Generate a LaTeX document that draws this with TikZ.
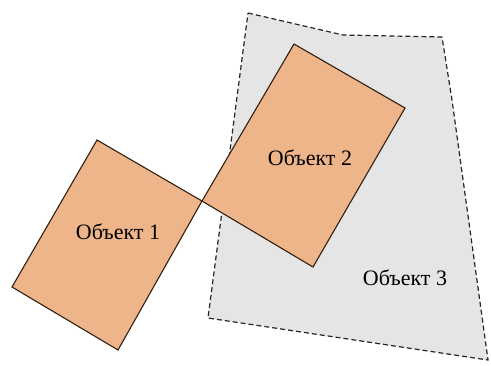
\documentclass[tikz,border=0pt]{standalone}
\usepackage{fontspec}
\setmainfont{Liberation Serif}
\usepackage{xcolor}
\usepackage{tikz}
\definecolor{objorange}{RGB}{238,180,138}
\definecolor{objgray}{RGB}{229,229,229}

\begin{document}
\begin{tikzpicture}[
    x=0.5pt, y=-0.5pt,
    zone/.style={draw=black!85, dash pattern=on 2.5pt off 1.5pt, fill=objgray, line width=0.6pt},
    obj/.style={draw=black!75!brown, fill=objorange, line width=0.55pt},
    lbl/.style={font=\fontsize{11}{13}\selectfont, inner sep=0pt}
]
\useasboundingbox (0,0) rectangle (491,365);
\draw[zone] (248,13) -- (343,35) -- (442,37) -- (452,100) -- (488,360) -- (208,318) -- cycle;
\draw[obj] (97,140) -- (202,201) -- (118,350) -- (12,287) -- cycle;
\draw[obj] (294,44) -- (405,108) -- (313,267) -- (202,201) -- cycle;
\node[lbl] (obj1) at (118,232) {Объект 1};
\node[lbl] (obj2) at (310,158) {Объект 2};
\node[lbl] (obj3) at (405,278) {Объект 3};
\end{tikzpicture}
\end{document}
